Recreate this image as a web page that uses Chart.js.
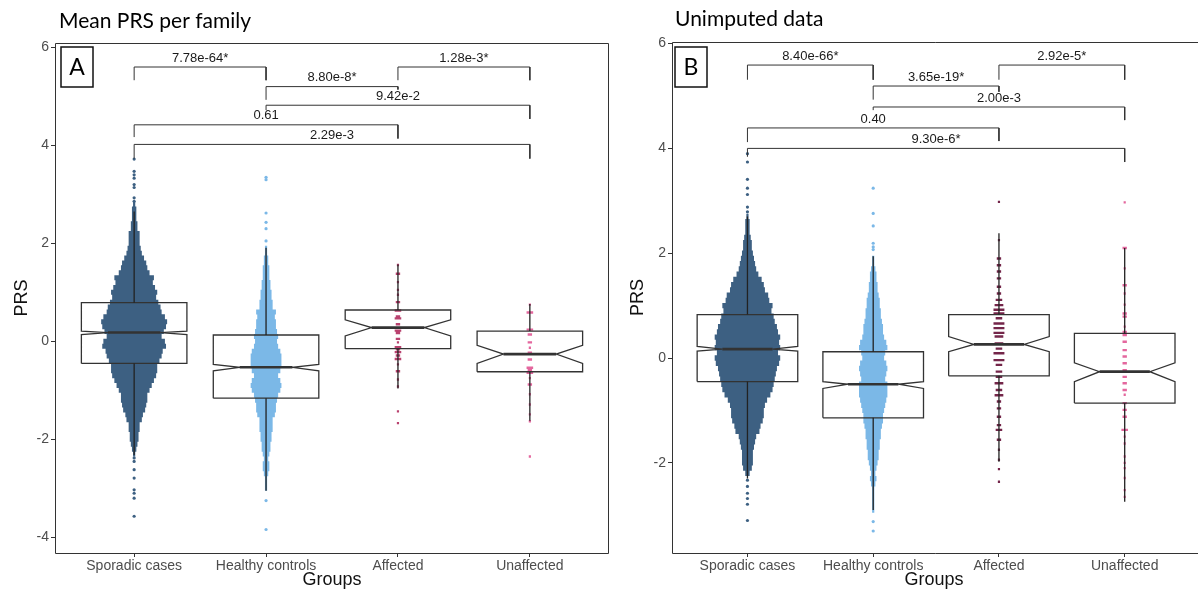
<!DOCTYPE html>
<html>
<head>
<meta charset="utf-8">
<script src="https://cdn.jsdelivr.net/npm/chart.js@4.4.0/dist/chart.umd.min.js"></script>
<style>
  body { margin: 0; background: #fff; }
  #wrap { position: relative; width: 1200px; height: 594px; overflow: hidden; }
  #panelA { position: absolute; left: 0; top: 0; }
  #panelB { position: absolute; left: 615px; top: 0; }
</style>
</head>
<body>
<div id="wrap">
  <canvas id="panelA" width="615" height="594"></canvas>
  <canvas id="panelB" width="585" height="594"></canvas>
</div>
<script>
const groups = ['Sporadic cases', 'Healthy controls', 'Affected', 'Unaffected'];

// ---------- panel A : mean PRS per family ----------
const ticksA = [-4, -2, 0, 2, 4, 6];
// [lower whisker, Q1, notch low, median, notch high, Q3, upper whisker]
const boxA = [
  [-2.32, -0.45, 0.14, 0.18, 0.21, 0.79, 2.65],
  [-3.05, -1.16, -0.60, -0.53, -0.47, 0.13, 1.91],
  [-0.96, -0.15, 0.11, 0.28, 0.44, 0.64, 1.57],
  [-1.62, -0.62, -0.45, -0.26, -0.08, 0.21, 0.76]
];
// swarm rows : [PRS, dots in row]
const sporA = [[2.8,1],[2.7,2],[2.6,2],[2.5,2],[2.4,3],[2.3,3],[2.2,5],[2.1,5],[2.0,5],[1.9,6],[1.8,7],[1.7,9],[1.6,11],[1.5,12],[1.4,14],[1.3,18],[1.2,17],[1.1,19],[1.0,21],[0.9,20],[0.8,22],[0.7,24],[0.6,25],[0.5,28],[0.4,30],[0.3,29],[0.2,27],[0.1,25],[0.0,28],[-0.1,29],[-0.2,26],[-0.3,25],[-0.4,23],[-0.5,21],[-0.6,21],[-0.7,20],[-0.8,18],[-0.9,16],[-1.0,14],[-1.1,12],[-1.2,12],[-1.3,11],[-1.4,10],[-1.5,8],[-1.6,7],[-1.7,5],[-1.8,5],[-1.9,4],[-2.0,4],[-2.1,3],[-2.2,2],[-2.3,1]];
const healA = [[1.9,1],[1.8,1],[1.7,2],[1.6,2],[1.5,3],[1.4,3],[1.3,3],[1.2,4],[1.1,4],[1.0,5],[0.9,5],[0.8,6],[0.7,6],[0.6,9],[0.5,8],[0.4,9],[0.3,9],[0.2,10],[0.1,11],[0.0,10],[-0.1,11],[-0.2,13],[-0.3,14],[-0.4,14],[-0.5,14],[-0.6,13],[-0.7,11],[-0.8,13],[-0.9,14],[-1.0,13],[-1.1,11],[-1.2,10],[-1.3,9],[-1.4,9],[-1.5,8],[-1.6,6],[-1.7,6],[-1.8,6],[-1.9,5],[-2.0,5],[-2.1,4],[-2.2,4],[-2.3,3],[-2.4,2],[-2.5,3],[-2.6,3],[-2.7,2],[-2.8,1],[-2.9,1],[-3.0,1]];
const affA = [[1.56,1],[1.38,2],[1.21,1],[1.05,1],[0.95,1],[0.80,2],[0.63,3],[0.51,2],[0.47,3],[0.35,2],[0.22,3],[0.17,2],[0.05,2],[-0.02,1],[-0.12,3],[-0.16,2],[-0.22,3],[-0.29,2],[-0.36,3],[-0.47,1],[-0.61,2],[-0.78,1],[-0.92,1],[-1.43,1],[-1.67,1]];
const unaffA = [[0.75,1],[0.59,3],[0.24,3],[0.14,2],[-0.02,2],[-0.13,1],[-0.23,2],[-0.37,2],[-0.54,3],[-0.58,2],[-0.64,3],[-0.75,1],[-0.88,2],[-1.08,1],[-1.29,1],[-1.49,1],[-1.63,1],[-2.35,1]];
// single dots beyond the dense part
const sporDotsA = [3.72, 3.47, 3.40, 3.33, 3.20, 3.14, 2.93, 2.86, -2.38, -2.45, -2.62, -2.79, -3.03, -3.10, -3.20, -3.57];
const healDotsA = [3.35, 3.30, 2.62, 2.43, 2.30, 2.05, -3.25, -3.84];

const pairsA = [[1, 2], [2, 3], [3, 4], [2, 4], [1, 3], [1, 4]];
const topsA = [5.6, 5.2, 5.6, 4.82, 4.42, 4.02];
const legLA = [5.33, 4.93, 5.33, 4.72, 4.17, 3.73];
const legRA = [5.33, 5.14, 5.33, 4.54, 4.14, 3.73];
const labelsA = ['7.78e-64*', '8.80e-8*', '1.28e-3*', '9.42e-2', '0.61', '2.29e-3'];

// ---------- panel B : unimputed data ----------
const ticksB = [-2, 0, 2, 4, 6];
const boxB = [
  [-2.30, -0.45, 0.13, 0.17, 0.22, 0.83, 2.70],
  [-2.90, -1.14, -0.58, -0.50, -0.45, 0.12, 1.94],
  [-1.98, -0.34, 0.12, 0.26, 0.41, 0.83, 2.38],
  [-2.74, -0.86, -0.45, -0.26, -0.09, 0.47, 2.10]
];
const sporB = [[2.7,1],[2.6,2],[2.5,2],[2.4,2],[2.3,3],[2.2,4],[2.1,4],[2.0,5],[1.9,6],[1.8,7],[1.7,8],[1.6,10],[1.5,13],[1.4,15],[1.3,16],[1.2,19],[1.1,20],[1.0,23],[0.9,22],[0.8,24],[0.7,25],[0.6,27],[0.5,28],[0.4,30],[0.3,29],[0.2,30],[0.1,28],[0.0,30],[-0.1,29],[-0.2,27],[-0.3,26],[-0.4,25],[-0.5,24],[-0.6,23],[-0.7,21],[-0.8,18],[-0.9,16],[-1.0,15],[-1.1,15],[-1.2,14],[-1.3,12],[-1.4,11],[-1.5,8],[-1.6,7],[-1.7,6],[-1.8,5],[-1.9,5],[-2.0,5],[-2.1,4],[-2.2,2]];
const healB = [[1.9,1],[1.8,1],[1.7,2],[1.6,3],[1.5,3],[1.4,4],[1.3,4],[1.2,5],[1.1,6],[1.0,6],[0.9,7],[0.8,7],[0.7,8],[0.6,9],[0.5,9],[0.4,10],[0.3,12],[0.2,13],[0.1,11],[0.0,10],[-0.1,12],[-0.2,13],[-0.3,12],[-0.4,11],[-0.5,13],[-0.6,13],[-0.7,13],[-0.8,12],[-0.9,11],[-1.0,10],[-1.1,9],[-1.2,9],[-1.3,8],[-1.4,7],[-1.5,7],[-1.6,6],[-1.7,6],[-1.8,5],[-1.9,5],[-2.0,4],[-2.1,3],[-2.2,2],[-2.3,3],[-2.4,2],[-2.5,1],[-2.6,1],[-2.7,1],[-2.8,1],[-2.9,1]];
const affB = [[2.98,1],[2.25,1],[1.90,2],[1.77,2],[1.65,2],[1.52,2],[1.36,2],[1.23,2],[1.11,3],[1.01,4],[0.92,5],[0.85,5],[0.76,3],[0.66,5],[0.57,5],[0.48,5],[0.41,4],[0.28,4],[0.18,3],[0.09,5],[-0.04,5],[-0.13,3],[-0.26,3],[-0.36,3],[-0.48,4],[-0.61,3],[-0.71,4],[-0.83,2],[-0.96,2],[-1.12,2],[-1.28,2],[-1.37,3],[-1.56,2],[-1.75,1],[-1.94,1],[-2.12,1],[-2.36,1]];
const unaffB = [[2.97,1],[2.10,2],[1.71,1],[1.39,2],[1.23,1],[1.02,1],[0.85,2],[0.79,2],[0.60,1],[0.50,2],[0.44,2],[0.31,2],[0.15,2],[0.03,2],[-0.10,2],[-0.23,2],[-0.36,2],[-0.48,2],[-0.61,2],[-0.70,1],[-0.86,2],[-0.99,2],[-1.12,2],[-1.37,3],[-1.50,1],[-1.63,1],[-1.88,1],[-2.00,1],[-2.10,1],[-2.29,1],[-2.52,1],[-2.65,1]];
const sporDotsB = [3.90, 3.74, 3.41, 3.24, 3.12, 2.88, 2.79, -2.33, -2.45, -2.58, -2.68, -2.79, -3.10];
const healDotsB = [3.24, 2.76, 2.52, 2.19, 2.12, 2.07, -3.12, -3.30];

const pairsB = [[1, 2], [2, 3], [3, 4], [2, 4], [1, 3], [1, 4]];
const topsB = [5.59, 5.19, 5.59, 4.79, 4.39, 4.0];
const legLB = [5.31, 4.93, 5.31, 4.73, 4.12, 3.84];
const legRB = [5.31, 5.08, 5.31, 4.54, 4.14, 3.74];
const labelsB = ['8.40e-66*', '3.65e-19*', '2.92e-5*', '2.00e-3', '0.40', '9.30e-6*'];

// ---------- drawing helpers ----------
const BW = 0.4;   // box half width
const NW = 0.2;   // half width at the notch
const GAP = {x: null, y: null};
const SANS = '"Liberation Sans", Arial, sans-serif';

function rowPoints(rows, c, unit) {
  const pts = [];
  rows.forEach(r => pts.push({x: c - r[1] * unit, y: r[0]}, {x: c + r[1] * unit, y: r[0]}, GAP));
  return pts;
}

function boxPoints(box) {
  const pts = [];
  box.forEach((b, i) => {
    const c = i + 1, q1 = b[1], nl = b[2], med = b[3], nh = b[4], q3 = b[5];
    pts.push({x: c - BW, y: q1}, {x: c - BW, y: nl}, {x: c - NW, y: med}, {x: c - BW, y: nh},
      {x: c - BW, y: q3}, {x: c + BW, y: q3}, {x: c + BW, y: nh}, {x: c + NW, y: med},
      {x: c + BW, y: nl}, {x: c + BW, y: q1}, {x: c - BW, y: q1}, GAP);
  });
  return pts;
}

function whiskerPoints(box) {
  const pts = [];
  box.forEach((b, i) => {
    pts.push({x: i + 1, y: b[5]}, {x: i + 1, y: b[6]}, GAP, {x: i + 1, y: b[1]}, {x: i + 1, y: b[0]}, GAP);
  });
  return pts;
}

function medianPoints(box) {
  const pts = [];
  box.forEach((b, i) => pts.push({x: i + 1 - NW, y: b[3]}, {x: i + 1 + NW, y: b[3]}, GAP));
  return pts;
}

function bracketPoints(pairs, tops, legL, legR) {
  const pts = [];
  pairs.forEach((p, i) => {
    pts.push({x: p[0], y: legL[i]}, {x: p[0], y: tops[i]}, {x: p[1], y: tops[i]}, {x: p[1], y: legR[i]}, GAP);
  });
  return pts;
}

function lineSet(data, color, width) {
  return {data: data, showLine: true, borderColor: color, borderWidth: width, pointRadius: 0,
    borderCapStyle: 'butt', borderJoinStyle: 'miter', spanGaps: false, tension: 0, fill: false};
}

function dotSet(values, c, color) {
  return {data: values.map(v => ({x: c, y: v})), pointRadius: 1.6, pointBackgroundColor: color,
    pointBorderWidth: 0, showLine: false};
}

function makeDecor(cfg) {
  return {
    id: 'decor',
    afterDatasetsDraw(chart) {
      const {ctx, chartArea: a, scales: {x, y}} = chart;
      ctx.save();
      // panel border
      ctx.strokeStyle = '#333';
      ctx.lineWidth = 1;
      ctx.beginPath();
      if (cfg.rightBorder) {
        ctx.rect(a.left + 0.5, a.top + 0.5, a.right - a.left - 1, a.bottom - a.top);
      } else {
        ctx.moveTo(a.right + 2, a.top + 0.5);
        ctx.lineTo(a.left + 0.5, a.top + 0.5);
        ctx.lineTo(a.left + 0.5, a.bottom + 0.5);
        ctx.lineTo(a.right + 2, a.bottom + 0.5);
      }
      ctx.stroke();
      // p-value labels
      ctx.fillStyle = '#1a1a1a';
      ctx.font = '13px ' + SANS;
      ctx.textAlign = 'center';
      ctx.textBaseline = 'middle';
      cfg.pairs.forEach((p, i) => {
        ctx.fillText(cfg.labels[i], x.getPixelForValue((p[0] + p[1]) / 2), y.getPixelForValue(cfg.tops[i]) - 9);
      });
      // panel letter
      ctx.strokeStyle = '#111';
      ctx.lineWidth = 1.5;
      ctx.strokeRect(cfg.letterX, 47, 32, 40);
      ctx.fillStyle = '#000';
      ctx.font = '23px Lato, "Open Sans", sans-serif';
      ctx.fillText(cfg.letter, cfg.letterX + 16, 68);
      // title
      ctx.textAlign = 'left';
      ctx.textBaseline = 'alphabetic';
      ctx.font = '21px Lato, "Open Sans", sans-serif';
      ctx.fillText(cfg.title, cfg.titleX, cfg.titleY);
      // axis titles
      ctx.fillStyle = '#111';
      ctx.font = '18px ' + SANS;
      ctx.textAlign = 'center';
      ctx.textBaseline = 'middle';
      ctx.fillText('Groups', (a.left + a.right) / 2, 580);
      ctx.translate(cfg.prsX, (a.top + a.bottom) / 2);
      ctx.rotate(-Math.PI / 2);
      ctx.fillText('PRS', 0, 0);
      ctx.restore();
    }
  };
}

function makePanel(id, cfg) {
  const unit = 1.1 / cfg.groupPx;
  const datasets = [
    lineSet(bracketPoints(cfg.pairs, cfg.tops, cfg.legL, cfg.legR), '#333', 1),
    lineSet(medianPoints(cfg.box), '#333', 2.6),
    lineSet(whiskerPoints(cfg.box), '#222', 1.3),
    lineSet(boxPoints(cfg.box), '#333', 1.3),
    dotSet(cfg.dots[0], 1, cfg.colors[0]),
    dotSet(cfg.dots[1], 2, cfg.colors[1]),
    lineSet(rowPoints(cfg.rows[2], 3, unit), cfg.colors[2], 2.4),
    lineSet(rowPoints(cfg.rows[3], 4, unit), cfg.colors[3], 2.4),
    lineSet(rowPoints(cfg.rows[1], 2, unit), cfg.colors[1], cfg.rowW),
    lineSet(rowPoints(cfg.rows[0], 1, unit), cfg.colors[0], cfg.rowW)
  ];
  datasets.forEach((d, i) => { d.order = i; });

  new Chart(document.getElementById(id), {
    type: 'scatter',
    data: {datasets: datasets},
    options: {
      responsive: false,
      animation: false,
      events: [],
      layout: {padding: {left: 0, right: cfg.padRight, top: cfg.padTop, bottom: 0}},
      plugins: {legend: {display: false}, tooltip: {enabled: false}},
      scales: {
        x: {
          type: 'linear', min: 0.4, max: cfg.xMax,
          afterBuildTicks: s => { s.ticks = [1, 2, 3, 4].map(v => ({value: v})); },
          afterFit: s => { s.height = 41; },
          grid: {display: true, drawOnChartArea: false, drawTicks: true, tickLength: 4, color: '#333'},
          border: {display: false},
          ticks: {callback: v => groups[v - 1], color: '#4d4d4d', font: {family: SANS, size: 14},
            padding: 1, maxRotation: 0, autoSkip: false}
        },
        y: {
          type: 'linear', min: cfg.yMin, max: cfg.yMax,
          afterBuildTicks: s => { s.ticks = cfg.ticks.map(v => ({value: v})); },
          afterFit: s => { s.width = cfg.yW; },
          grid: {display: true, drawOnChartArea: false, drawTicks: true, tickLength: 4, color: '#333'},
          border: {display: false},
          ticks: {callback: v => String(v), color: '#4d4d4d', font: {family: SANS, size: 14}, padding: 2}
        }
      }
    },
    plugins: [makeDecor(cfg)]
  });
}

makePanel('panelA', {
  box: boxA, rows: [sporA, healA, affA, unaffA], dots: [sporDotsA, healDotsA],
  colors: ['#3d6082', '#7bb8e7', '#b9426f', '#e4679e'],
  pairs: pairsA, tops: topsA, legL: legLA, legR: legRA, labels: labelsA, ticks: ticksA,
  yMin: -4.32, yMax: 6.09, xMax: 4.6, yW: 55, padTop: 43, padRight: 6, groupPx: 132, rowW: 5.0,
  title: 'Mean PRS per family', titleX: 59, titleY: 28, letter: 'A', letterX: 61, prsX: 22, rightBorder: true
});

makePanel('panelB', {
  box: boxB, rows: [sporB, healB, affB, unaffB], dots: [sporDotsB, healDotsB],
  colors: ['#3d6082', '#7bb8e7', '#74264a', '#e4679e'],
  pairs: pairsB, tops: topsB, legL: legLB, legR: legRB, labels: labelsB, ticks: ticksB,
  yMin: -3.72, yMax: 6.03, xMax: 4.567, yW: 57, padTop: 42, padRight: 0, groupPx: 126.7, rowW: 5.35,
  title: 'Unimputed data', titleX: 60, titleY: 26, letter: 'B', letterX: 60, prsX: 23, rightBorder: false
});
</script>
</body>
</html>
